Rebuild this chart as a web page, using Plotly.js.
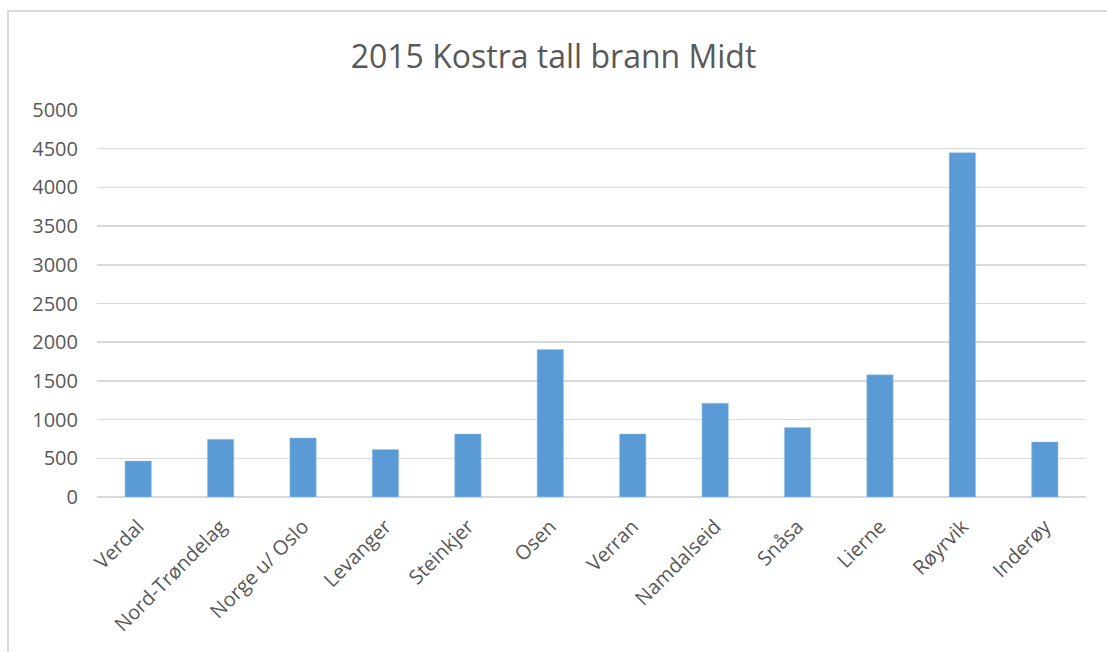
<!DOCTYPE html>
<html>
<head>
<meta charset="utf-8">
<script src="https://cdn.plot.ly/plotly-3.0.1.min.js"></script>
<style>
  html, body { margin: 0; padding: 0; background: #fff; }
  #wrap { position: relative; width: 1107px; height: 652px; }
  #chart { width: 1107px; height: 652px; }
  #frame { position: absolute; left: 7px; top: 10px; width: 1100px; height: 642px;
           border-top: 2px solid #d9d9d9; border-left: 2px solid #d9d9d9; box-sizing: border-box; pointer-events: none; }
</style>
</head>
<body>
<div id="wrap">
  <div id="chart"></div>
  <div id="frame"></div>
</div>
<script>
const categories = ["Verdal", "Nord-Trøndelag", "Norge u/ Oslo", "Levanger", "Steinkjer", "Osen",
                    "Verran", "Namdalseid", "Snåsa", "Lierne", "Røyrvik", "Inderøy"];
const values = [465, 746, 763, 613, 815, 1906, 815, 1211, 897, 1578, 4448, 711];
const yTicks = [0, 500, 1000, 1500, 2000, 2500, 3000, 3500, 4000, 4500, 5000];
const chartTitle = "2015 Kostra tall brann Midt";

const font = "Open Sans, Noto Sans, sans-serif";
const textColor = "#595959";
const gridColor = "#d9d9d9";

Plotly.newPlot("chart", [{
  type: "bar",
  x: categories,
  y: values,
  marker: { color: "#5b9bd5", line: { color: "#9dc3e6", width: 0.5 } },
  hoverinfo: "x+y"
}], {
  width: 1107,
  height: 652,
  margin: { l: 97, r: 21, t: 110, b: 155 },
  paper_bgcolor: "#ffffff",
  plot_bgcolor: "#ffffff",
  title: { text: chartTitle, font: { family: font, size: 32, color: textColor }, x: 0.5, xanchor: "center", y: 0.913, yanchor: "middle" },
  bargap: 0.68,
  showlegend: false,
  xaxis: {
    type: "category",
    tickangle: -45,
    tickfont: { family: font, size: 20, color: textColor },
    showgrid: false,
    showline: false,
    ticks: "",
    ticklabelstandoff: 13,
    fixedrange: true
  },
  yaxis: {
    range: [0, 5000],
    tickvals: yTicks,
    ticktext: yTicks.map(String),
    tickfont: { family: font, size: 20, color: textColor },
    showgrid: true,
    gridcolor: gridColor,
    gridwidth: 1.5,
    zeroline: true,
    zerolinecolor: gridColor,
    zerolinewidth: 1.5,
    showline: false,
    ticks: "",
    ticklabelstandoff: 18,
    fixedrange: true
  }
}, { displayModeBar: false, staticPlot: true });
</script>
</body>
</html>
